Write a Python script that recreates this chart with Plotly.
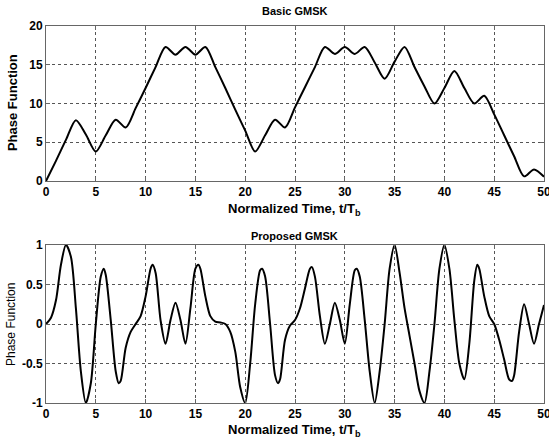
import plotly.graph_objects as go

# Basic GMSK phase trajectory, sampled once per bit period
t_basic = list(range(0, 51))
phase_basic = [
    0.0, 2.6, 5.3, 7.85, 6.0, 3.8, 5.9, 7.9, 6.9, 9.4,
    12.0, 14.7, 17.3, 16.3, 17.3, 16.3, 17.3, 14.7, 12.0, 9.2,
    6.5, 3.8, 5.9, 7.9, 6.9, 9.5, 12.1, 14.7, 17.3, 16.4,
    17.3, 16.4, 17.3, 15.3, 13.2, 15.4, 17.3, 14.7, 12.2, 10.0,
    12.0, 14.2, 12.0, 10.0, 11.0, 8.6, 5.9, 3.2, 0.6, 1.5,
    0.55,
]

# Proposed GMSK phase trajectory
t_prop = [
    0.0, 0.5, 1.0, 1.5, 2.0, 2.5, 3.0, 3.5, 4.0, 4.5,
    5.0, 5.5, 5.8, 6.0, 6.5, 7.0, 7.3, 7.5, 8.0, 8.5,
    9.0, 9.5, 10.0, 10.5, 10.7, 11.0, 11.5, 12.0, 12.5, 13.0,
    13.5, 14.0, 14.5, 15.0, 15.3, 15.5, 16.0, 16.5, 17.0, 17.5,
    18.0, 18.5, 19.0, 19.5, 20.0, 20.5, 21.0, 21.5, 21.7, 22.0,
    22.5, 23.0, 23.3, 23.5, 24.0, 24.5, 25.0, 25.5, 26.0, 26.5,
    26.7, 27.0, 27.5, 28.0, 28.5, 29.0, 29.5, 30.0, 30.5, 31.0,
    31.2, 31.5, 32.0, 32.5, 33.0, 33.5, 34.0, 34.5, 35.0, 35.5,
    36.0, 36.5, 37.0, 37.5, 38.0, 38.5, 39.0, 39.5, 40.0, 40.5,
    41.0, 41.5, 42.0, 42.5, 43.0, 43.3, 43.5, 44.0, 44.5, 45.0,
    45.5, 46.0, 46.5, 46.8, 47.0, 47.5, 48.0, 48.5, 49.0, 49.5,
    50.0,
]
phase_prop = [
    0.0, 0.08, 0.3, 0.75, 1.0, 0.85, 0.2, -0.6, -1.0, -0.75,
    0.0, 0.6, 0.7, 0.62, 0.05, -0.6, -0.75, -0.72, -0.3, -0.1,
    0.0, 0.1, 0.35, 0.7, 0.75, 0.65, 0.05, -0.25, 0.05, 0.27,
    0.05, -0.25, 0.2, 0.7, 0.75, 0.7, 0.35, 0.1, 0.03, 0.02,
    0.0, -0.1, -0.35, -0.8, -1.0, -0.5, 0.25, 0.68, 0.7, 0.6,
    0.0, -0.65, -0.75, -0.7, -0.2, -0.02, 0.05, 0.2, 0.45, 0.7,
    0.72, 0.6, 0.1, -0.25, 0.0, 0.27, 0.05, -0.25, 0.25, 0.68,
    0.7, 0.6, 0.05, -0.6, -1.0, -0.6, 0.0, 0.7, 1.0, 0.65,
    0.2, -0.15, -0.5, -0.85, -1.0, -0.6, 0.0, 0.7, 1.0, 0.7,
    0.05, -0.5, -0.7, -0.25, 0.55, 0.75, 0.7, 0.35, 0.1, 0.0,
    -0.2, -0.45, -0.7, -0.72, -0.65, -0.1, 0.25, 0.0, -0.25, 0.0,
    0.24,
]

x_ticks = [0, 5, 10, 15, 20, 25, 30, 35, 40, 45, 50]
y_ticks_basic = [0, 5, 10, 15, 20]
y_ticks_prop = [-1, -0.5, 0, 0.5, 1]
y_tick_text_prop = ["-1", "-0.5", "0", "0.5", "1"]

FONT = "Arial, Liberation Sans, sans-serif"

fig = go.Figure()
fig.add_trace(go.Scatter(x=t_basic, y=phase_basic, mode="lines",
                         line=dict(color="black", width=2, shape="spline", smoothing=0.8),
                         xaxis="x", yaxis="y", showlegend=False))
fig.add_trace(go.Scatter(x=t_prop, y=phase_prop, mode="lines",
                         line=dict(color="black", width=2, shape="spline", smoothing=0.8),
                         xaxis="x2", yaxis="y2", showlegend=False))

axis_common = dict(
    showgrid=True, gridcolor="#555555", griddash="dot", gridwidth=1,
    showline=True, linecolor="#666666", linewidth=1, mirror="ticks",
    ticks="inside", ticklen=4, tickcolor="#666666",
    zeroline=False, ticklabeloverflow="allow", automargin=False,
    tickfont=dict(family=FONT, size=12, color="black", weight="bold"),
)

fig.update_layout(
    width=549, height=439,
    margin=dict(l=0, r=0, t=0, b=0, autoexpand=False),
    paper_bgcolor="white", plot_bgcolor="white",
    xaxis=dict(domain=[0.0838, 0.9909], anchor="y", range=[0, 50],
               tickvals=x_ticks, **axis_common),
    yaxis=dict(domain=[0.5877, 0.9408], anchor="x", range=[0, 20],
               tickvals=y_ticks_basic, **axis_common),
    xaxis2=dict(domain=[0.0838, 0.9909], anchor="y2", range=[0, 50],
                tickvals=x_ticks, **axis_common),
    yaxis2=dict(domain=[0.082, 0.4419], anchor="x2", range=[-1, 1],
                tickvals=y_ticks_prop, ticktext=y_tick_text_prop, **axis_common),
)

def note(text, x, y, size, bold=True, angle=0):
    fig.add_annotation(text=text, x=x, y=y, xref="paper", yref="paper",
                       xanchor="center", yanchor="middle", showarrow=False,
                       textangle=angle,
                       font=dict(family=FONT, size=size, color="black",
                                 weight="bold" if bold else "normal"))

note("Basic GMSK", 0.537, 1 - 11 / 439, 11)
note("Proposed GMSK", 0.537, 1 - 236 / 439, 11)
note("Normalized Time, t/T<sub>b</sub>", 0.537, 1 - 209 / 439, 13)
note("Normalized Time, t/T<sub>b</sub>", 0.537, 1 - 430 / 439, 13)
note("Phase Function", 0.022, 1 - 103 / 439, 13, angle=-90)
note("Phase Function", 0.020, 1 - 324 / 439, 12, bold=False, angle=-90)

fig.write_html("out.html")
